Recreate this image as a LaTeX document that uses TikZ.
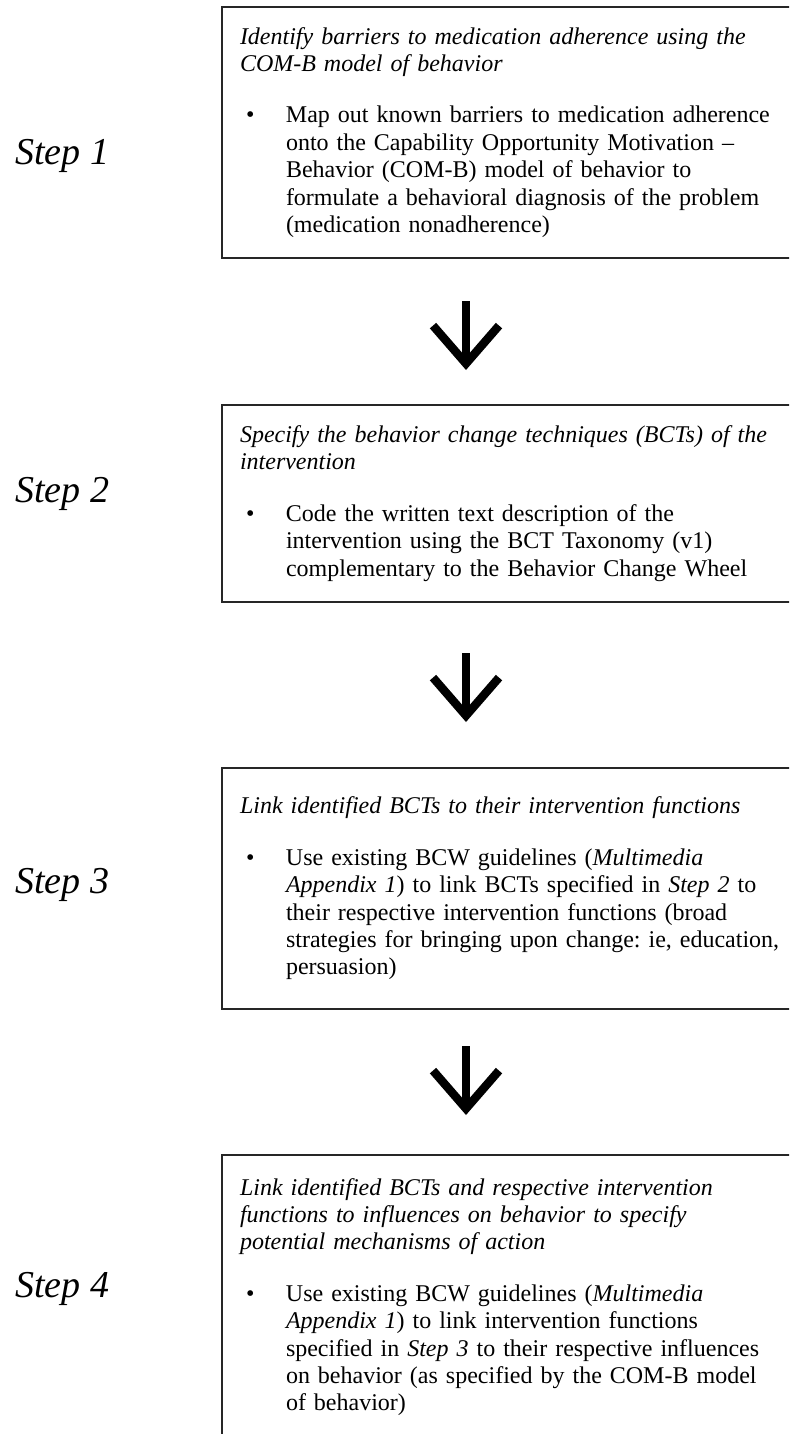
\documentclass[tikz,border=0pt]{standalone}
\usepackage{fontspec}
\setmainfont{Liberation Serif}
\usetikzlibrary{arrows.meta}

\newcommand{\bulpoint}[1]{\par\vspace{12pt}\noindent\hspace*{3pt}\makebox[20pt][l]{\textbullet}\parbox[t]{259pt}{#1}}

\begin{document}
\begin{tikzpicture}[x=0.5pt, y=-0.5pt, >={Straight Barb[length=19pt, width=33pt]},
	every box/.style={draw=black!85, line width=1pt, anchor=north west, text width=282pt,
		inner xsep=9pt, inner ysep=0pt, align=left, font=\fontsize{12}{13.7}\selectfont\frenchspacing},
	every step/.style={anchor=base west, inner sep=0pt, font=\fontsize{19}{22}\selectfont\itshape},
	flow/.style={line width=4.2pt, ->}]

\useasboundingbox (0,0) rectangle (789,1434);
\clip (0,0) rectangle (789,1434);

%the four boxes, they run past the right and bottom edge
\node [every box, minimum height=125.5pt] (box-1) at (221,6) {
	{\itshape Identify barriers to medication adherence using the\\
	COM-B model of behavior}
	\bulpoint{Map out known barriers to medication adherence\\
	onto the Capability Opportunity Motivation --\\
	Behavior (COM-B) model of behavior to\\
	formulate a behavioral diagnosis of the problem\\
	(medication nonadherence)}};

\node [every box, minimum height=98.5pt] (box-2) at (221,404) {
	{\itshape Specify the behavior change techniques (BCTs) of the\\
	intervention}
	\bulpoint{Code the written text description of the\\
	intervention using the BCT Taxonomy (v1)\\
	complementary to the Behavior Change Wheel}};

\node [every box, minimum height=120.5pt] (box-3) at (221,767) {
	{\itshape Link identified BCTs to their intervention functions}
	\bulpoint{Use existing BCW guidelines (\textit{Multimedia\\
	Appendix 1}) to link BCTs specified in \textit{Step 2} to\\
	their respective intervention functions (broad\\
	strategies for bringing upon change: ie, education,\\
	persuasion)}\par\vspace{5pt}};

\node [every box, minimum height=142pt] (box-4) at (221,1154) {
	{\itshape Link identified BCTs and respective intervention\\
	functions to influences on behavior to specify\\
	potential mechanisms of action}
	\bulpoint{Use existing BCW guidelines (\textit{Multimedia\\
	Appendix 1}) to link intervention functions\\
	specified in \textit{Step 3} to their respective influences\\
	on behavior (as specified by the COM-B model\\
	of behavior)}};

%step labels on the left
\foreach \y [count=\i] in {164,502,893,1297}
	\node [every step] (step-\i) at (15,\y) {Step \i};

%drawing part
\foreach \a [count=\i] in {301,653,1046} {
	\coordinate (from-\i) at (466,\a);
	\coordinate (to-\i) at (466,\a+69);
}
\foreach \i in {1,2,3}
	\draw [flow] (from-\i) -- (to-\i);

\end{tikzpicture}
\end{document}
